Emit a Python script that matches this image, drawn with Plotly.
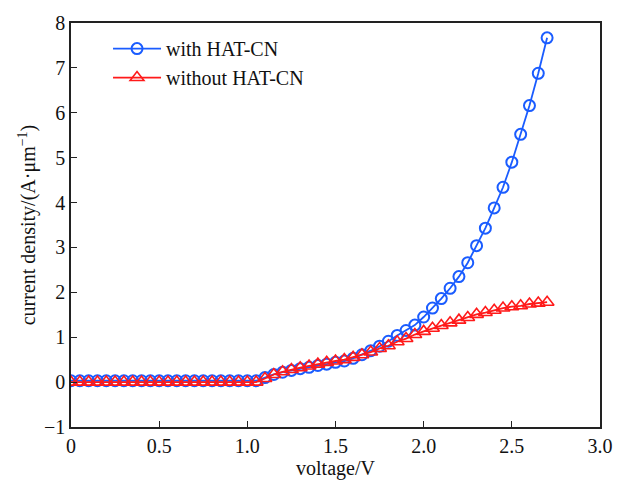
import plotly.graph_objects as go

voltage = [round(i * 0.05, 2) for i in range(55)]

with_hatcn = [0.03] * 22 + [
    0.10, 0.17, 0.22, 0.26, 0.30, 0.33, 0.37, 0.40, 0.44, 0.47,
    0.53, 0.61, 0.70, 0.80, 0.91, 1.04, 1.15, 1.27, 1.45, 1.65,
    1.86, 2.09, 2.35, 2.66, 3.04, 3.43, 3.88, 4.34, 4.90, 5.52,
    6.16, 6.88, 7.67,
]

without_hatcn = [0.0] * 22 + [
    0.08, 0.17, 0.23, 0.28, 0.32, 0.36, 0.40, 0.44, 0.47, 0.50,
    0.55, 0.61, 0.67, 0.75, 0.81, 0.90, 0.97, 1.06, 1.13, 1.20,
    1.26, 1.32, 1.38, 1.44, 1.51, 1.55, 1.60, 1.65, 1.68, 1.70,
    1.74, 1.76, 1.78,
]

x_ticks = [0, 0.5, 1.0, 1.5, 2.0, 2.5, 3.0]
x_tick_text = ["0", "0.5", "1.0", "1.5", "2.0", "2.5", "3.0"]
y_ticks = [-1, 0, 1, 2, 3, 4, 5, 6, 7, 8]

FONT = "Liberation Serif, Times New Roman, serif"
FS = 20

fig = go.Figure()
fig.add_trace(go.Scatter(
    x=voltage, y=with_hatcn, mode="lines+markers", name="with HAT-CN",
    line=dict(color="#1a5cff", width=1.8),
    marker=dict(symbol="circle-open", size=11, color="#1a5cff", line=dict(width=2)),
))
fig.add_trace(go.Scatter(
    x=voltage, y=without_hatcn, mode="lines+markers", name="without HAT-CN",
    line=dict(color="#ff1a1a", width=1.8),
    marker=dict(symbol="triangle-up-open", size=12, color="#ff1a1a", line=dict(width=1.6)),
))

axis_common = dict(
    showgrid=False, zeroline=False, showline=True, linecolor="#222",
    linewidth=1.5, mirror=True, ticks="inside", ticklen=6, tickwidth=1.2,
    tickcolor="#222", tickfont=dict(family=FONT, size=FS, color="#111"),
)

fig.update_xaxes(
    range=[0, 3.0], tickvals=x_ticks, ticktext=x_tick_text,
    title=dict(text="voltage/V", font=dict(family=FONT, size=FS, color="#111"), standoff=2),
    **axis_common,
)
fig.update_yaxes(
    range=[-1, 8], tickvals=y_ticks,
    title=dict(text="current density/(A·μm<sup>−1</sup>)", font=dict(family=FONT, size=FS, color="#111"), standoff=3),
    **axis_common,
)

fig.update_layout(
    width=630, height=485,
    margin=dict(l=71, r=30, t=14, b=54),
    plot_bgcolor="white", paper_bgcolor="white",
    font=dict(family=FONT, size=FS, color="#111"),
    legend=dict(
        x=0.07, y=0.985, xanchor="left", yanchor="top",
        bgcolor="rgba(0,0,0,0)", itemwidth=48,
        font=dict(family=FONT, size=FS, color="#111"),
        tracegroupgap=0,
    ),
)

fig.write_html("out.html")
